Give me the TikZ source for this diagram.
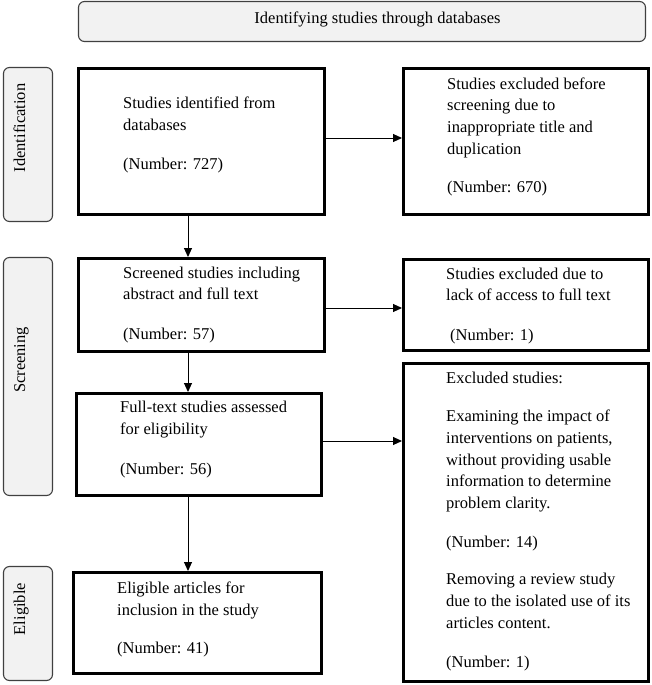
\documentclass[tikz,border=0pt]{standalone}
\usepackage{fontspec}
\setmainfont{Liberation Serif}
\usetikzlibrary{arrows.meta}
\definecolor{lblfill}{HTML}{F2F2F2}
\definecolor{lbldraw}{HTML}{404040}
\begin{document}
\begin{tikzpicture}[x=1pt,y=-1pt,
  mainbox/.style={draw=black, line width=3pt, fill=white, inner sep=0pt, outer sep=0pt},
  lbl/.style={draw=lbldraw, line width=1.1pt, fill=lblfill, rounded corners=6pt, inner sep=0pt, outer sep=0pt},
  txt/.style={font=\fontsize{16.5pt}{21.7pt}\selectfont, inner sep=0pt, align=left, anchor=base west},
  lbltxt/.style={font=\fontsize{16.5pt}{21.7pt}\selectfont, inner sep=0pt, rotate=90, anchor=base},
  arr/.style={line width=1pt, -{Triangle[length=9pt,width=8pt]}, shorten >=1.5pt, shorten <=1.5pt}]
\useasboundingbox (0,0) rectangle (651,685);
% banner and stage labels
\node[lbl, minimum width=567pt, minimum height=40pt] (ban) at (362,21.5) {};
\node[font=\fontsize{16.5pt}{21.7pt}\selectfont, inner sep=0pt, anchor=base] (bant) at (377.5,24) {Identifying studies through databases};
\node[lbl, minimum width=49pt, minimum height=154pt] (L1) at (28,144.5) {};
\node[lbl, minimum width=49pt, minimum height=238pt] (L2) at (28,376.5) {};
\node[lbl, minimum width=49pt, minimum height=114pt] (L3) at (28,623.5) {};
\node[lbltxt] (L1t) at (25,128) {Identification};
\node[lbltxt] (L2t) at (25,360) {Screening};
\node[lbltxt] (L3t) at (25,609) {Eligible};
% boxes
\node[mainbox, minimum width=246pt, minimum height=146pt] (b1) at (201.5,141.5) {};
\node[mainbox, minimum width=245pt, minimum height=146pt] (r1) at (526,141.5) {};
\node[mainbox, minimum width=246pt, minimum height=93pt] (b2) at (201.5,305) {};
\node[mainbox, minimum width=245pt, minimum height=91pt] (r2) at (526,305) {};
\node[mainbox, minimum width=245pt, minimum height=102pt] (b3) at (199,444.5) {};
\node[mainbox, minimum width=245pt, minimum height=318pt] (r3) at (526,522.5) {};
\node[mainbox, minimum width=248pt, minimum height=101pt] (b4) at (197.5,623) {};
% texts (anchored at the baseline of their last line)
\node[txt] (t1) at (123,169) {Studies identified from\\databases\\[17pt](Number: 727)};
\node[txt] (tr1) at (447,192) {Studies excluded before\\screening due to\\inappropriate title and\\duplication\\[16pt](Number: 670)};
\node[txt] (t2) at (123,339) {Screened studies including\\abstract and full text\\[17.5pt](Number: 57)};
\node[txt] (tr2) at (446,340) {Studies excluded due to\\lack of access to full text\\[17.5pt]\hspace{4pt}(Number: 1)};
\node[txt] (t3) at (120,474) {Full-text studies assessed\\for eligibility\\[18pt](Number: 56)};
\node[txt] (t4) at (117,653) {Eligible articles for\\inclusion in the study\\[16pt](Number: 41)};
\node[txt] (tr3) at (446,667) {Excluded studies:\\[17pt]Examining the impact of\\interventions on patients,\\without providing usable\\information to determine\\problem clarity.\\[17pt](Number: 14)\\[16pt]Removing a review study\\due to the isolated use of its\\articles content.\\[17pt](Number: 1)};
% connectors
\coordinate (ax) at (188,0);
\coordinate (ay1) at (0,138);
\coordinate (ay2) at (0,308);
\coordinate (ay3) at (0,441);
\draw[arr] (b1.south -| ax) -- (b2.north -| ax);
\draw[arr] (b2.south -| ax) -- (b3.north -| ax);
\draw[arr] (b3.south -| ax) -- (b4.north -| ax);
\draw[arr] (b1.east |- ay1) -- (r1.west |- ay1);
\draw[arr] (b2.east |- ay2) -- (r2.west |- ay2);
\draw[arr] (b3.east |- ay3) -- (r3.west |- ay3);
\end{tikzpicture}
\end{document}
